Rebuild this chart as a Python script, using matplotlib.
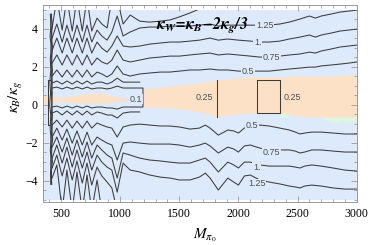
import matplotlib
matplotlib.use('Agg')
import matplotlib.pyplot as plt
from matplotlib.patches import Rectangle
from matplotlib.ticker import MultipleLocator

plt.rcParams['mathtext.fontset'] = 'stix'

# ---------------- data ----------------
region_x = [350, 3000]
region_y = [-5, 5]
x_ticks = [500, 1000, 1500, 2000, 2500, 3000]
y_ticks = [-4, -2, 0, 2, 4]

# left (oscillating) part of the contours
xl = [425, 465, 510, 550, 595, 635, 680, 720, 760, 805, 845, 890, 930, 975, 1025, 1085, 1165]
up_01 = [0.87, 0.92, 0.82, 0.92, 0.82, 0.92, 0.82, 0.92, 0.82, 0.87, 0.87, 0.82, 0.87, 0.97, 0.87, 0.87, 0.87]
up_025 = [1.13, 1.24, 1.08, 1.24, 1.08, 1.24, 1.08, 1.24, 1.08, 1.18, 1.18, 1.08, 1.18, 1.39, 1.18, 1.18, 1.18]
up_05_l = [1.50, 1.82, 1.45, 1.82, 1.45, 1.82, 1.45, 1.82, 1.45, 1.71, 1.61, 1.45, 1.61, 2.03, 1.61, 1.50, 1.61]
up_075_l = [2.18, 2.61, 2.08, 2.61, 2.08, 2.61, 2.08, 2.61, 2.08, 2.45, 2.24, 2.13, 2.34, 2.87, 2.34, 2.24, 2.34]
up_1_l = [2.87, 3.50, 2.71, 3.50, 2.71, 3.50, 2.71, 3.50, 2.71, 3.29, 2.97, 2.76, 3.08, 3.61, 3.08, 3.03, 3.08]
up_125_l = [3.50, 4.24, 3.29, 4.18, 3.29, 4.18, 3.29, 4.18, 3.29, 3.92, 3.61, 3.39, 3.82, 4.66, 3.61, 3.82, 4.03]
up_15_l = [4.03, 5.6, 3.92, 5.6, 3.87, 5.6, 3.87, 5.6, 3.87, 4.55, 4.24, 4.03, 5.6, 5.6, 4.24, 4.71, 4.39]

lo_01 = [-0.13, -0.08, -0.18, -0.08, -0.18, -0.08, -0.18, -0.08, -0.18, -0.13, -0.13, -0.18, -0.18, -0.24, -0.13, -0.13, -0.13]
lo_025 = [-0.45, -0.34, -0.55, -0.34, -0.55, -0.34, -0.55, -0.34, -0.55, -0.39, -0.45, -0.55, -0.55, -0.71, -0.45, -0.39, -0.39]
lo_05_l = [-1.08, -0.82, -1.18, -0.82, -1.24, -0.87, -1.24, -0.87, -1.24, -0.97, -1.08, -1.18, -1.24, -1.71, -1.18, -1.08, -1.03]
lo_075_l = [-1.71, -1.24, -1.87, -1.29, -2.03, -1.39, -2.13, -1.45, -2.13, -1.71, -1.87, -2.03, -2.13, -2.92, -2.03, -1.97, -2.03]
lo_1_l = [-2.24, -1.71, -2.50, -1.76, -2.66, -1.87, -2.76, -1.97, -2.82, -2.13, -2.39, -2.66, -2.82, -3.87, -2.55, -2.66, -2.82]
lo_125_l = [-2.82, -2.13, -3.08, -2.24, -3.29, -2.39, -3.34, -2.50, -3.45, -2.66, -3.03, -3.29, -3.45, -4.61, -3.08, -3.45, -3.55]
xl15 = [425, 465, 510, 550, 595, 635, 680, 720, 760, 805, 845, 890, 930, 975]
lo_15 = [-3.34, -2.66, -3.76, -2.82, -3.97, -2.97, -4.13, -3.08, -4.24, -3.29, -3.76, -4.08, -4.39, -5.6]
xl175 = [425, 465, 510, 550, 595, 635, 680, 720, 760, 805, 845]
lo_175 = [-3.87, -3.18, -5.6, -3.45, -5.6, -3.55, -5.6, -3.71, -5.6, -3.97, -5.6]

# right (smooth) part of the upper contours
xr = [1165, 1250, 1340, 1420, 1500, 1590, 1670, 1760, 1830, 1910, 2000, 2100, 2180, 2260,
      2350, 2430, 2520, 2600, 2650, 2700, 2780, 2860, 2930, 3000]
up_05_r = [1.61, 1.66, 1.71, 1.71, 1.76, 1.82, 1.82, 1.87, 1.82, 1.82, 1.76, 1.76, 1.76, 1.76,
           1.82, 1.87, 1.92, 1.97, 1.97, 2.03, 2.08, 2.13, 2.18, 2.24]
up_075_r = [2.34, 2.45, 2.50, 2.55, 2.55, 2.61, 2.66, 2.71, 2.61, 2.66, 2.61, 2.55, 2.50, 2.50,
            2.55, 2.61, 2.66, 2.76, 2.71, 2.82, 2.92, 3.03, 3.08, 3.13]
up_1_r = [3.08, 3.18, 3.24, 3.29, 3.29, 3.34, 3.39, 3.50, 3.39, 3.45, 3.39, 3.34, 3.29, 3.29,
          3.34, 3.45, 3.55, 3.66, 3.55, 3.66, 3.76, 3.87, 3.92, 3.97]
up_125_r = [4.03, 4.08, 4.08, 4.13, 4.13, 4.13, 4.18, 4.24, 4.13, 4.18, 4.18, 4.18, 4.18, 4.18,
            4.24, 4.34, 4.50, 4.66, 4.55, 4.66, 4.76, 4.87, 4.92, 4.97]
xr15 = [1165, 1250, 1340, 1420, 1500, 1590, 1670, 1760]
up_15_r = [4.39, 4.34, 4.39, 4.45, 4.61, 4.82, 5.03, 5.34]

# right (smooth) part of the lower contours
xrl = [1165, 1250, 1340, 1420, 1500, 1590, 1670, 1720, 1760, 1830, 1910, 1960, 2000, 2050,
       2100, 2180, 2260, 2350, 2430, 2480, 2520, 2560, 2620, 2700, 2800, 2900, 3000]
lo_05_r = [-1.03, -1.08, -1.13, -1.13, -1.18, -1.29, -1.24, -1.08, -1.24, -1.61, -1.34, -1.39, -1.50, -1.24,
           -1.08, -1.08, -1.13, -1.24, -1.34, -1.45, -1.55, -1.50, -1.45, -1.45, -1.50, -1.55, -1.55]
lo_075_r = [-2.03, -2.08, -2.08, -2.08, -2.13, -2.24, -2.13, -2.03, -2.18, -2.55, -2.24, -2.34, -2.50, -2.18,
            -2.13, -2.29, -2.39, -2.39, -2.39, -2.45, -2.55, -2.50, -2.39, -2.39, -2.45, -2.50, -2.50]
lo_1_r = [-2.82, -2.92, -2.97, -3.03, -3.08, -3.08, -2.92, -2.82, -3.03, -3.55, -3.03, -3.18, -3.34, -3.03,
          -3.03, -3.18, -3.24, -3.24, -3.24, -3.29, -3.34, -3.24, -3.18, -3.24, -3.34, -3.45, -3.50]
lo_125_r = [-3.55, -3.71, -3.82, -3.87, -3.97, -3.97, -3.82, -3.61, -3.87, -4.50, -3.87, -4.08, -4.24, -3.76,
            -3.71, -3.97, -4.08, -4.18, -4.29, -4.34, -4.39, -4.29, -4.24, -4.29, -4.39, -4.45, -4.45]

# closing segments of the 0.1 / 0.25 contours
x_close_01 = 1193
v025_x = [1818, 1818]
v025_y = [1.29, -0.66]
box025_x = [2155, 2350, 2350, 2155, 2155]
box025_y = [1.29, 1.29, -0.45, -0.45, 1.29]

# dense bundle at the low-mass edge
bundle_y = [4.75, 4.2, 3.6, 3.0, 2.4, 1.8, 1.2, 0.6, 0.0, -0.6, -1.2, -1.8, -2.4, -3.0, -3.6, -4.2]
bundle_xa = [410, 416, 408, 418, 410, 414, 406, 412, 404, 414, 408, 416, 410, 418, 412, 414]
bundle_xb = [420, 414, 424, 416, 422, 418, 426, 420, 424, 418, 426, 416, 422, 414, 420, 418]
bundle_xc = [416, 428, 418, 430, 420, 428, 420, 426, 422, 428, 420, 430, 418, 428, 416, 422]
loop_x = [406, 390, 390, 406]
loop_y = [1.3, 1.3, -1.1, -1.1]

# filled regions
band_x = [350, 420, 470, 520, 580, 640, 700, 760, 820, 880, 940, 1000, 1060]
band_top = [0.50, 0.45, 0.39, 0.39, 0.45, 0.50, 0.55, 0.61, 0.61, 0.55, 0.45, 0.39, 0.34]
band_bot = [0.08, 0.13, 0.13, 0.18, 0.13, 0.08, 0.08, 0.08, 0.08, 0.08, 0.13, 0.18, 0.24]
peach_x = [1193, 1250, 1340, 1420, 1500, 1590, 1670, 1760, 1818, 1900, 2000, 2100, 2200, 2300,
           2400, 2500, 2600, 2700, 2800, 2900, 3000]
peach_top = [0.82, 0.87, 0.92, 0.97, 1.03, 1.08, 1.13, 1.24, 1.29, 1.34, 1.39, 1.45, 1.45, 1.45,
             1.45, 1.50, 1.50, 1.50, 1.50, 1.55, 1.55]
peach_bot = [-0.13, -0.13, -0.18, -0.18, -0.24, -0.29, -0.39, -0.50, -0.66, -0.55, -0.50, -0.45, -0.45, -0.45,
             -0.50, -0.61, -0.66, -0.66, -0.66, -0.66, -0.66]
green_x = [2700, 2760, 2820, 2870, 2920, 2960, 3000]
green_top = [-0.66, -0.66, -0.66, -0.66, -0.66, -0.66, -0.66]
green_bot = [-0.66, -0.87, -0.97, -0.82, -0.97, -0.87, -0.92]
green2_x = [2340, 2380, 2430]
green2_top = [-0.45, -0.45, -0.47]
green2_bot = [-0.45, -0.71, -0.50]

labels = ['0.1', '0.25', '0.25', '0.5', '0.75', '1.', '1.25', '0.5', '0.75', '1.', '1.25']
label_x = [1133, 1716, 2460, 2080, 2282, 2164, 2223, 2113, 2282, 2155, 2155]
label_y = [0.29, 0.39, 0.39, 1.76, 2.50, 3.29, 4.18, -1.08, -2.50, -3.29, -4.18]
label_bg = ['blue', 'peach', 'peach', 'blue', 'blue', 'blue', 'blue', 'blue', 'blue', 'blue', 'blue']

# ---------------- styles ----------------
BLUE = '#dceafb'
PEACH = '#fde1c6'
GREEN = '#def6dc'
LINE = '#3c3c3c'
FRAME = '#9a9a9a'

fig = plt.figure(figsize=(3.74, 2.45), dpi=100)
ax = fig.add_axes([43 / 374, 1 - 202 / 245, 314 / 374, 197 / 245])
ax.set_xlim(348, 3002)
ax.set_ylim(-5.13, 5.24)

bg = Rectangle((region_x[0], region_y[0]), region_x[1] - region_x[0], region_y[1] - region_y[0],
               facecolor=BLUE, edgecolor='none', zorder=0)
ax.add_patch(bg)

ax.fill_between(band_x, band_bot, band_top, color=PEACH, lw=0, zorder=1)
ax.fill_between(peach_x, peach_bot, peach_top, color=PEACH, lw=0, zorder=1)
ax.fill_between(green_x, green_bot, green_top, color=GREEN, lw=0, zorder=1)
ax.fill_between(green2_x, green2_bot, green2_top, color=GREEN, lw=0, zorder=1)

kw = dict(color=LINE, lw=0.75, zorder=3, solid_joinstyle='round')


def draw(x, y):
    ln, = ax.plot(x, y, **kw)
    ln.set_clip_path(bg)


# 0.1 closed contour
draw(xl + [x_close_01, x_close_01] + xl[::-1], up_01 + [up_01[-1], lo_01[-1]] + lo_01[::-1])
# 0.25 contour pieces
draw(xl, up_025)
draw(xl, lo_025)
draw(v025_x, v025_y)
draw(box025_x, box025_y)
# upper contours
draw(xl + xr[1:], up_05_l + up_05_r[1:])
draw(xl + xr[1:], up_075_l + up_075_r[1:])
draw(xl + xr[1:], up_1_l + up_1_r[1:])
draw(xl + xr[1:], up_125_l + up_125_r[1:])
draw(xl + xr15[1:], up_15_l + up_15_r[1:])
# lower contours
draw(xl + xrl[1:], lo_05_l + lo_05_r[1:])
draw(xl + xrl[1:], lo_075_l + lo_075_r[1:])
draw(xl + xrl[1:], lo_1_l + lo_1_r[1:])
draw(xl + xrl[1:], lo_125_l + lo_125_r[1:])
draw(xl15, lo_15)
draw(xl175, lo_175)
# bundle at low mass
draw(bundle_xa, bundle_y)
draw(bundle_xb, bundle_y)
draw(bundle_xc, bundle_y)
draw(loop_x, loop_y)

bgmap = {'blue': BLUE, 'peach': PEACH}
for t, x, y, b in zip(labels, label_x, label_y, label_bg):
    ax.text(x, y, t, ha='center', va='center', fontsize=6.5, family='Liberation Sans',
            color='#505050', zorder=4,
            bbox=dict(facecolor=bgmap[b], edgecolor='none', pad=0.6))

ax.text(1691, 4.18, r'$\mathbfit{\kappa_W\!=\!\kappa_B\!-\!2\kappa_g/3}$', ha='center', va='center',
        fontsize=11.5, color='black', zorder=5)

# ticks & frame
ax.set_xticks(x_ticks)
ax.set_yticks(y_ticks)
ax.xaxis.set_minor_locator(MultipleLocator(100))
ax.yaxis.set_minor_locator(MultipleLocator(0.5))
ax.tick_params(which='both', direction='in', top=True, right=True, color=FRAME, width=0.6)
ax.tick_params(which='major', length=4)
ax.tick_params(which='minor', length=2)
ax.tick_params(axis='x', pad=4)
ax.tick_params(axis='y', pad=4)
for lab in ax.get_xticklabels() + ax.get_yticklabels():
    lab.set_fontfamily('Liberation Serif')
    lab.set_fontsize(8.5)
for s in ax.spines.values():
    s.set_color(FRAME)
    s.set_linewidth(0.7)

fig.text(16 / 374, 1 - 97 / 245, r'$\kappa_B/\kappa_g$', rotation=90, ha='center', va='center', fontsize=11)
fig.text(205 / 374, 1 - 235 / 245, r'$M_{\pi_0}$', ha='center', va='center', fontsize=11)

fig.savefig('out.png', dpi=100)
